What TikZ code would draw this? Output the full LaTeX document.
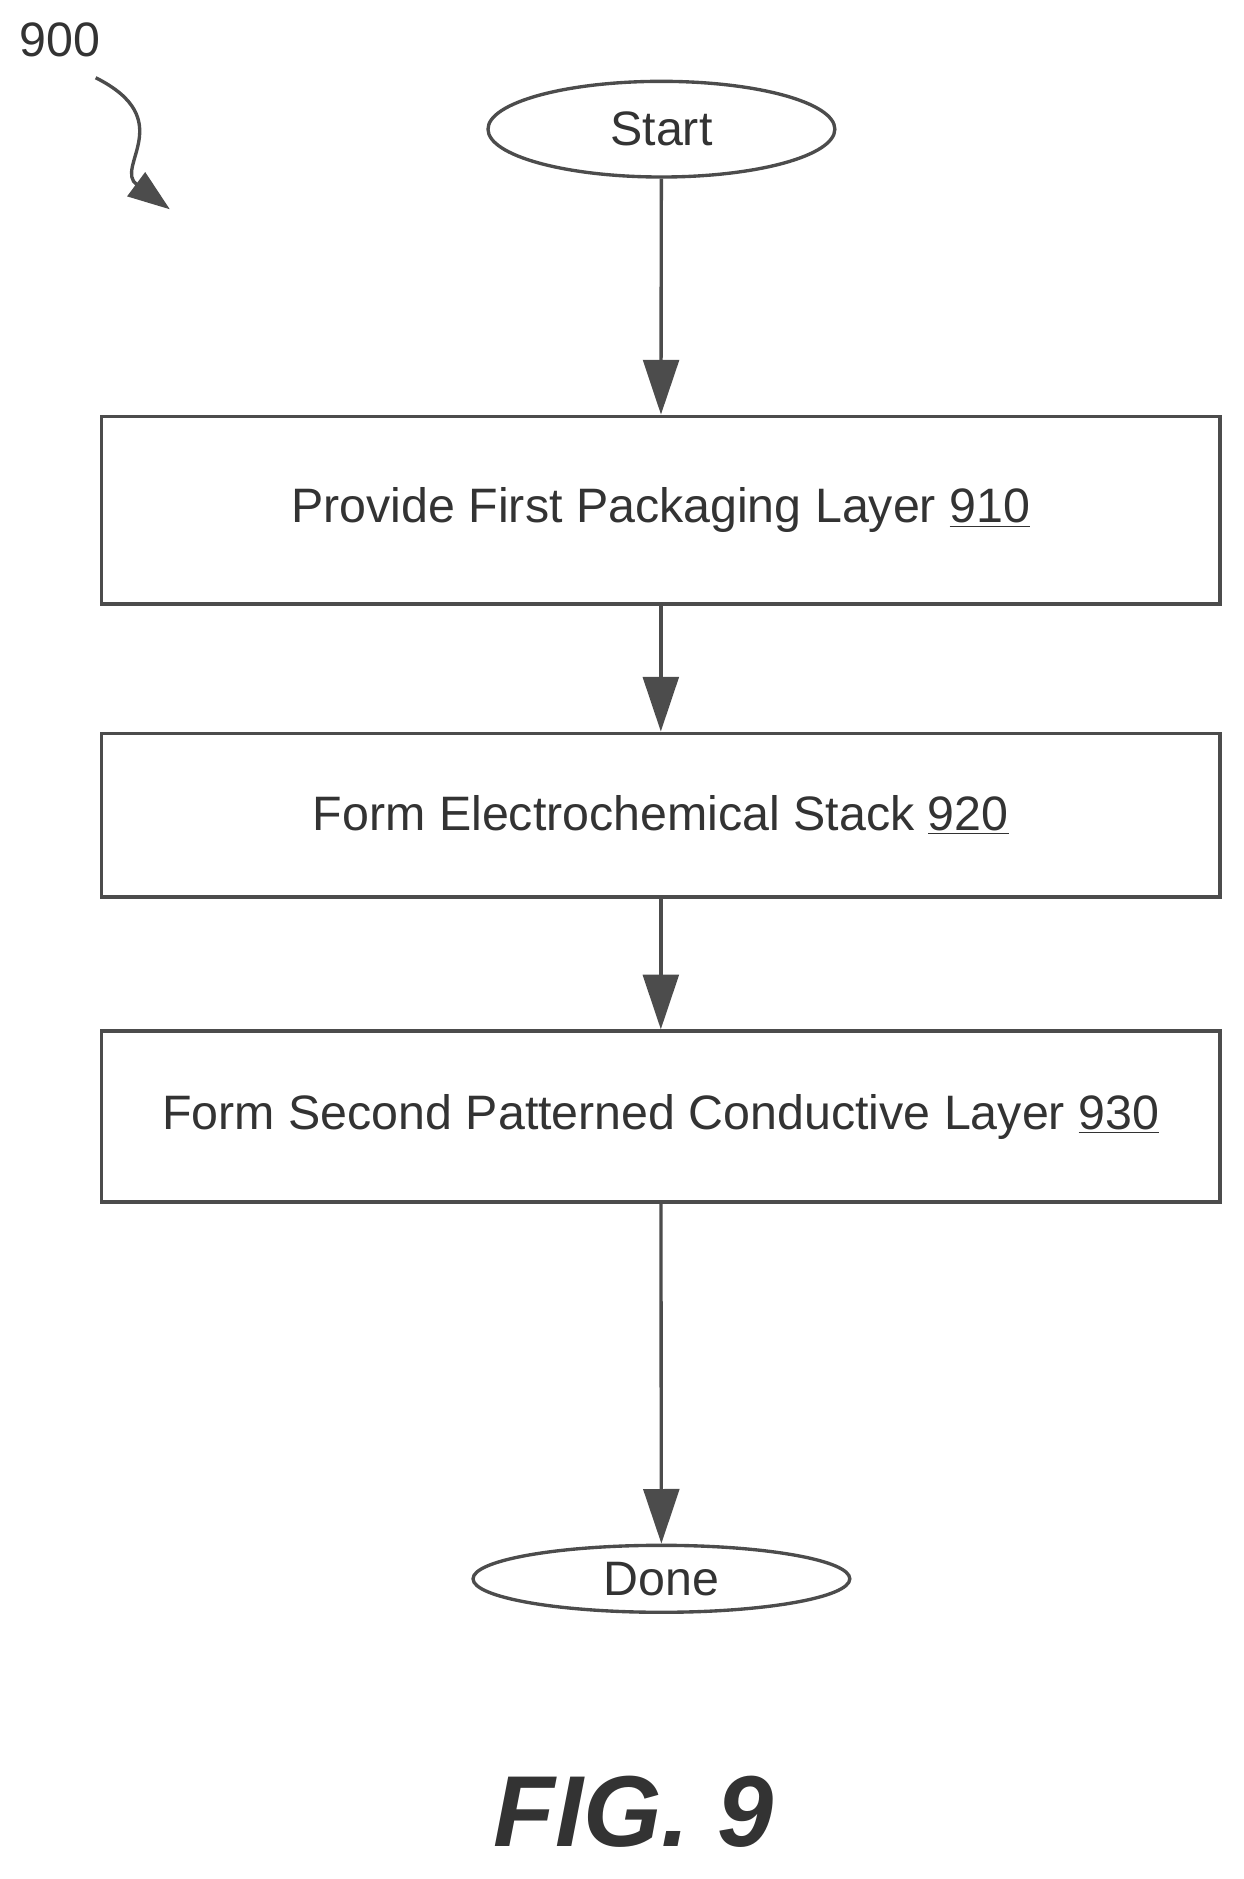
\documentclass[tikz,border=0pt]{standalone}
\usepackage{fontspec}
\setmainfont{Liberation Sans}
\usetikzlibrary{arrows.meta,shapes.geometric}
\begin{document}
\begin{tikzpicture}[x=0.02cm,y=-0.02cm,
    line width=1.6pt, draw=black!70,
    box/.style={draw=black!70,fill=white,inner sep=0pt,font=\fontsize{23}{26}\selectfont\color{black!80}},
    term/.style={draw=black!70,ellipse,inner sep=0pt,font=\fontsize{23}{26}\selectfont\color{black!80}},
    flow/.style={-{Triangle[length=26pt,width=17pt]},draw=black!70}]
        \useasboundingbox (0,0) rectangle (1040,1571);

        \node[term,minimum width=290*0.02cm,minimum height=80*0.02cm] (start) at (553,108) {Start};
        \node[box,minimum width=935*0.02cm,minimum height=157*0.02cm] (s910) at (552.5,426.5) {Provide First Packaging Layer \underline{910}};
        \node[box,minimum width=935*0.02cm,minimum height=137*0.02cm] (s920) at (552.5,681.5) {Form Electrochemical Stack \underline{920}};
        \node[box,minimum width=935*0.02cm,minimum height=143*0.02cm] (s930) at (552.5,933.5) {Form Second Patterned Conductive Layer \underline{930}};
        \node[term,minimum width=315*0.02cm,minimum height=56*0.02cm] (done) at (553,1320) {Done};

        \draw[flow] (start) -- (s910);
        \draw[flow] (s910) -- (s920);
        \draw[flow] (s920) -- (s930);
        \draw[flow] (s930) -- (done);

        % figure label
        \node[font=\fontsize{23}{26}\selectfont\color{black!80}] (ref) at (50,33) {900};
        \coordinate (tip) at (142,175);
        \draw[-{Triangle[length=20pt,width=14pt]}] (80,65) .. controls (150,100) and (95,140) .. (tip);
        \node[font=\fontsize{48}{50}\selectfont\bfseries\itshape\color{black!80}] (fig) at (530,1515) {FIG. 9};
\end{tikzpicture}
\end{document}
